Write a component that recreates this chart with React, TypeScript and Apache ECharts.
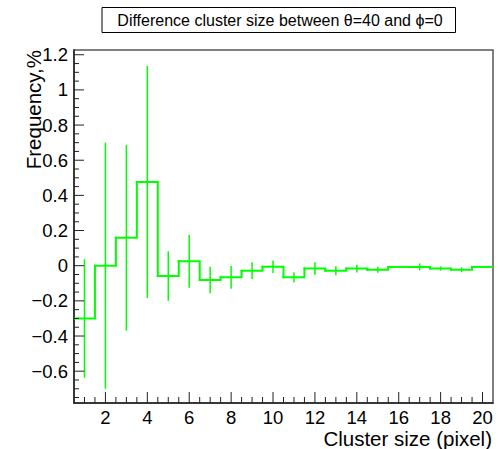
import React, { useEffect, useRef } from "react";
import * as echarts from "echarts";

const binCenters = [1, 2, 3, 4, 5, 6, 7, 8, 9, 10, 11, 12, 13, 14, 15, 16, 17, 18, 19, 20];
const values = [-0.3, 0.0, 0.159, 0.476, -0.059, 0.025, -0.081, -0.066, -0.028, -0.006, -0.066, -0.016, -0.029, -0.016, -0.023, -0.007, -0.007, -0.016, -0.023, -0.007];
const errors = [0.337, 0.7, 0.528, 0.66, 0.141, 0.15, 0.075, 0.065, 0.048, 0.035, 0.029, 0.036, 0.026, 0.022, 0.017, 0.005, 0.02, 0.012, 0.014, 0.004];
const xTickLabels = [2, 4, 6, 8, 10, 12, 14, 16, 18, 20];
const yTickLabels = [-0.6, -0.4, -0.2, 0, 0.2, 0.4, 0.6, 0.8, 1, 1.2];

const X_MIN = 0.5;
const X_MAX = 20.5;
const Y_MIN = -0.781;
const Y_MAX = 1.227;

const GREEN = "#00ff00";
const FONT = "'Liberation Sans', Arial, Helvetica, sans-serif";

function minorTicks(start: number, end: number, step: number, majors: number[]) {
  const out: number[] = [];
  for (let v = start; v <= end + 1e-9; v += step) {
    const r = Math.round(v * 1000) / 1000;
    if (!majors.some((m) => Math.abs(m - r) < 1e-6)) out.push(r);
  }
  return out;
}

const xMinor = minorTicks(1, 20, 0.5, xTickLabels);
const yMinor = minorTicks(-0.75, 1.2, 0.05, yTickLabels);

// tick descriptors: [axis (0 = x, 1 = y), value, major (1) / minor (0)]
const tickData: number[][] = [
  ...xTickLabels.map((v) => [0, v, 1]),
  ...xMinor.map((v) => [0, v, 0]),
  ...yTickLabels.map((v) => [1, v, 1]),
  ...yMinor.map((v) => [1, v, 0]),
];

const fmt = (v: number) => String(Math.round(v * 10) / 10).replace("-", "\u2212");

export default function App() {
  const ref = useRef<HTMLDivElement>(null);
  useEffect(() => {
    if (!ref.current) return;
    const chart = echarts.init(ref.current, undefined, { renderer: "svg" });
    const option: any = {
      animation: false,
      backgroundColor: "#ffffff",
      grid: {
        left: 74,
        top: 50,
        right: 10,
        bottom: 46,
        show: true,
        borderColor: "#555",
        borderWidth: 1.5,
        backgroundColor: "transparent",
      },
      xAxis: {
        type: "value",
        min: X_MIN,
        max: X_MAX,
        axisLine: { show: true, onZero: false, lineStyle: { color: "#222", width: 1.5 } },
        axisTick: { show: false },
        axisLabel: {
          show: true,
          customValues: xTickLabels,
          margin: 5,
          fontSize: 18.5,
          fontFamily: FONT,
          color: "#000",
          formatter: (v: number) => fmt(v),
        },
        splitLine: { show: false },
      },
      yAxis: {
        type: "value",
        min: Y_MIN,
        max: Y_MAX,
        axisLine: { show: true, onZero: false, lineStyle: { color: "#222", width: 1.5 } },
        axisTick: { show: false },
        axisLabel: {
          show: true,
          customValues: yTickLabels,
          margin: 6,
          fontSize: 18.5,
          fontFamily: FONT,
          color: "#000",
          formatter: (v: number) => fmt(v),
        },
        splitLine: { show: false },
      },
      graphic: [
        {
          type: "rect",
          shape: { x: 102, y: 7.5, width: 353.5, height: 25 },
          style: { fill: "#fff", stroke: "#000", lineWidth: 1 },
          z: 10,
        },
        {
          type: "text",
          x: 280,
          y: 20,
          style: {
            text: "Difference cluster size between \u03b8=40 and \u03d5=0",
            fontSize: 16,
            fontFamily: FONT,
            fill: "#000",
            align: "center",
            verticalAlign: "middle",
          },
          z: 11,
        },
        {
          type: "text",
          x: 33,
          y: 50,
          rotation: Math.PI / 2,
          style: {
            text: "Frequency,%",
            fontSize: 20.5,
            fontFamily: FONT,
            fill: "#000",
            align: "right",
            verticalAlign: "middle",
          },
        },
        {
          type: "text",
          x: 492,
          y: 438,
          style: {
            text: "Cluster size (pixel)",
            fontSize: 20.5,
            fontFamily: FONT,
            fill: "#000",
            align: "right",
            verticalAlign: "middle",
          },
        },
      ],
      series: [
        {
          type: "custom",
          clip: true,
          z: 3,
          data: binCenters.map((c, i) => [c, values[i], errors[i]]),
          encode: { x: 0, y: 1 },
          renderItem: (params: any, api: any) => {
            const i = params.dataIndex;
            const x = api.value(0);
            const v = api.value(1);
            const e = api.value(2);
            const left = api.coord([x - 0.5, v]);
            const right = api.coord([x + 0.5, v]);
            const pts: number[][] = [left, right];
            if (i < values.length - 1) {
              pts.push(api.coord([x + 0.5, values[i + 1]]));
            }
            const top = api.coord([x, v + e]);
            const bot = api.coord([x, v - e]);
            return {
              type: "group",
              children: [
                {
                  type: "polyline",
                  shape: { points: pts },
                  style: { stroke: GREEN, lineWidth: 2, fill: "none", lineJoin: "miter", lineCap: "square" },
                },
                {
                  type: "line",
                  shape: { x1: top[0], y1: top[1], x2: bot[0], y2: bot[1] },
                  style: { stroke: GREEN, lineWidth: 1.5 },
                },
              ],
            };
          },
        },
        {
          type: "custom",
          clip: false,
          z: 4,
          silent: true,
          data: tickData,
          encode: { x: 1 },
          renderItem: (params: any, api: any) => {
            const axis = api.value(0);
            const val = api.value(1);
            const major = api.value(2) === 1;
            if (axis === 0) {
              const p = api.coord([val, Y_MIN]);
              const len = major ? 11 : 6;
              return {
                type: "line",
                shape: { x1: p[0], y1: p[1], x2: p[0], y2: p[1] - len },
                style: { stroke: "#222", lineWidth: 1 },
              };
            }
            const p = api.coord([X_MIN, val]);
            const len = major ? 10 : 5;
            return {
              type: "line",
              shape: { x1: p[0], y1: p[1], x2: p[0] + len, y2: p[1] },
              style: { stroke: "#222", lineWidth: 1 },
            };
          },
        },
      ],
    };
    chart.setOption(option);
    return () => chart.dispose();
  }, []);
  return (
    <div
      ref={ref}
      style={{ position: "fixed", left: 0, top: 0, width: 503, height: 449, background: "#fff" }}
    />
  );
}
